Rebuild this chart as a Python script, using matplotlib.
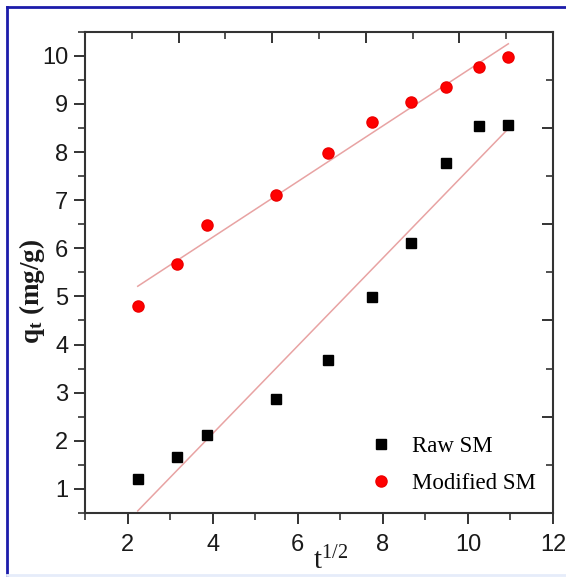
import numpy as np
import matplotlib
matplotlib.use("Agg")
import matplotlib.pyplot as plt
from matplotlib.lines import Line2D
from matplotlib.ticker import MultipleLocator

# Data (t^1/2, q_t)
t_half = [2.24, 3.16, 3.87, 5.48, 6.71, 7.75, 8.66, 9.49, 10.25, 10.95]
raw_sm = [1.21, 1.66, 2.12, 2.86, 3.68, 4.98, 6.12, 7.78, 8.55, 8.57]
mod_sm = [4.81, 5.67, 6.48, 7.10, 7.99, 8.63, 9.03, 9.36, 9.76, 9.98]
labels = ["Raw SM", "Modified SM"]

plt.rcParams['mathtext.fontset'] = 'custom'
plt.rcParams['mathtext.rm'] = 'Liberation Serif'
plt.rcParams['mathtext.it'] = 'Liberation Serif'

W, H = 566, 577
fig = plt.figure(figsize=(W / 100, H / 100), dpi=100)
ax = fig.add_axes([85 / W, 1 - 513 / H, (553 - 85) / W, (513 - 31.7) / H])

x = np.array(t_half)
fit_color = '#e8a3a3'
for ys in (raw_sm, mod_sm):
    k, b = np.polyfit(x, np.array(ys), 1)
    xx = np.array([x.min(), x.max()])
    ax.plot(xx, k * xx + b, color=fit_color, lw=1.1, zorder=1)

ax.plot(t_half, raw_sm, 's', color='black', markersize=7.5, label=labels[0], zorder=3)
ax.plot(t_half, mod_sm, 'o', color='#ff0000', markeredgecolor='#ee0000',
        markersize=8, label=labels[1], zorder=3)

ax.set_xlim(1, 12)
ax.set_ylim(0.5, 10.5)
ax.xaxis.set_major_locator(MultipleLocator(2))
ax.xaxis.set_minor_locator(MultipleLocator(1))
ax.yaxis.set_major_locator(MultipleLocator(1))
ax.yaxis.set_minor_locator(MultipleLocator(0.5))

spine_c = '#333333'
for s in ax.spines.values():
    s.set_color(spine_c)
    s.set_linewidth(1.5)

ax.tick_params(which='major', direction='out', length=8, width=1.4, color=spine_c,
               labelsize=17, labelcolor='#1a1a1a', top=False, right=False)
ax.tick_params(which='minor', direction='out', length=5, width=1.2, color=spine_c,
               top=False, right=False)
ax.tick_params(axis='x', which='major', pad=7)
ax.tick_params(axis='y', which='major', pad=4)
for lab in ax.get_xticklabels() + ax.get_yticklabels():
    lab.set_family('Liberation Sans')

# top and right axes with their own (unlabelled) ticks
axt = ax.twiny()
axt.set_xlim(0, 10)
axt.xaxis.set_major_locator(MultipleLocator(2))
axt.xaxis.set_minor_locator(MultipleLocator(1))
axt.tick_params(which='major', direction='in', length=8, width=1.4, color=spine_c,
                labeltop=False, top=True, bottom=False)
axt.tick_params(which='minor', direction='in', length=5, width=1.2, color=spine_c,
                top=True, bottom=False)
axr = ax.twinx()
axr.set_ylim(0, 10)
axr.yaxis.set_major_locator(MultipleLocator(2))
axr.yaxis.set_minor_locator(MultipleLocator(1))
axr.tick_params(which='major', direction='in', length=8, width=1.4, color=spine_c,
                labelright=False, right=True, left=False)
axr.tick_params(which='minor', direction='in', length=5, width=1.2, color=spine_c,
                right=True, left=False)
for a in (axt, axr):
    for s in a.spines.values():
        s.set_visible(False)

ax.set_ylabel(r'q$_\mathregular{t}$ (mg/g)', family='Liberation Serif',
              fontweight='bold', fontsize=19.5, color='#1a1a1a')
ax.yaxis.set_label_coords(-0.082, 0.46)
ax.set_xlabel(r'$\mathrm{t}^{1/2}$', fontsize=21, color='#1a1a1a')
ax.xaxis.set_label_coords(0.525, -0.07)

ax.legend(loc='center left', bbox_to_anchor=(0.609, 0.1), frameon=False,
          prop={'family': 'Liberation Serif', 'size': 16.5}, numpoints=1,
          handlelength=1.0, handletextpad=0.85, labelspacing=0.72,
          borderpad=0, borderaxespad=0)

# blue frame of the figure
fig.add_artist(Line2D([7 / W, 7 / W], [0, 1 - 7 / H], transform=fig.transFigure,
                      color='#1c1caa', lw=2))
fig.add_artist(Line2D([7 / W, 1], [1 - 7 / H, 1 - 7 / H], transform=fig.transFigure,
                      color='#1c1caa', lw=2))
fig.add_artist(Line2D([7 / W, 1], [2 / H, 2 / H], transform=fig.transFigure,
                      color='#e6ecfa', lw=2))

fig.savefig('out.png', dpi=100)
